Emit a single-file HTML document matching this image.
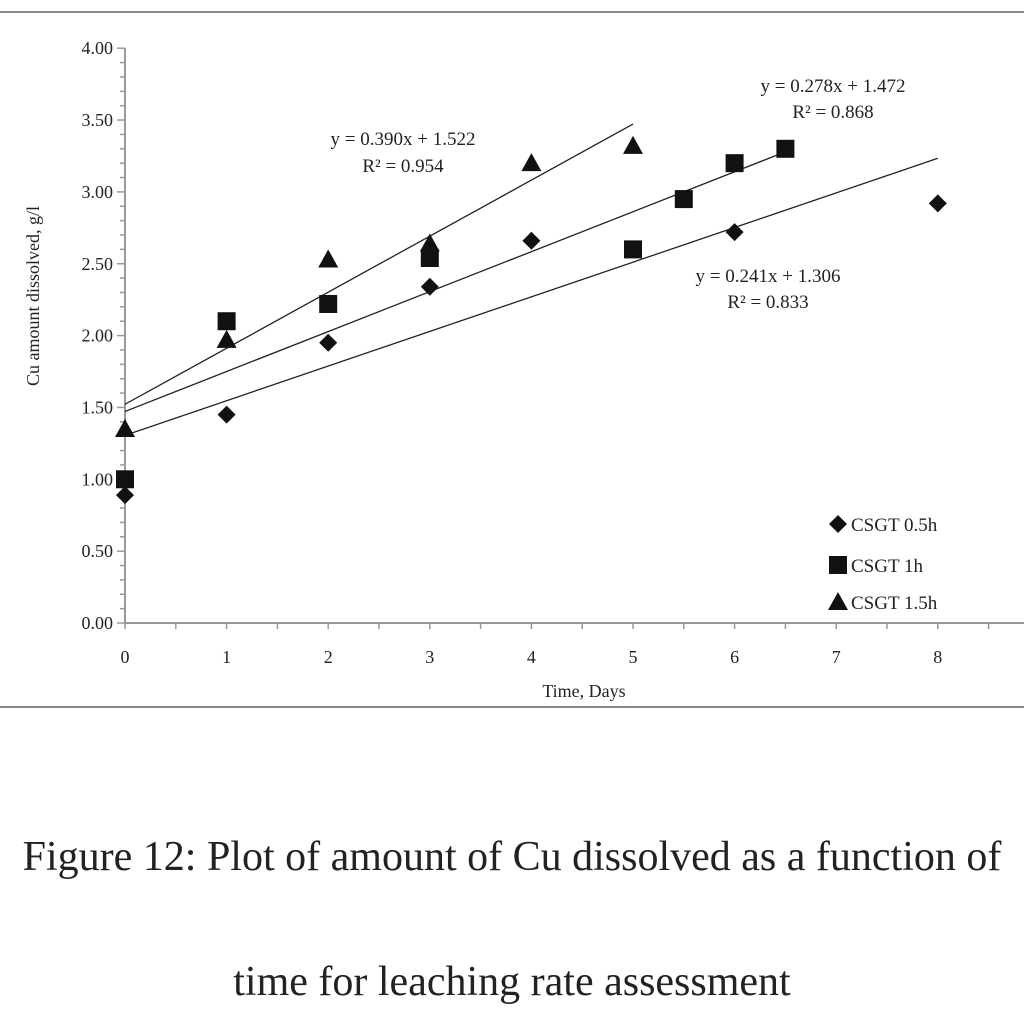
<!DOCTYPE html>
<html><head><meta charset="utf-8"><style>
body{margin:0;background:#fff;width:1024px;height:1024px;overflow:hidden;font-family:"Liberation Serif",serif}
.cap{position:absolute;left:0;width:1024px;text-align:center;font-size:42px;color:#222;white-space:nowrap}
</style></head><body>
<svg width="1024" height="720" style="position:absolute;left:0;top:0" font-family="Liberation Serif, serif">
<line x1="0" y1="12" x2="1024" y2="12" stroke="#888" stroke-width="2"/>
<line x1="0" y1="707" x2="1024" y2="707" stroke="#888" stroke-width="2"/>
<g id="g"></g>
</svg>
<div class="cap" style="top:833px">Figure 12: Plot of amount of Cu dissolved as a function of</div>
<div class="cap" style="top:958px">time for leaching rate assessment</div>
<script>
const xTicks=[0,1,2,3,4,5,6,7,8];
const yTicks=[0,0.5,1,1.5,2,2.5,3,3.5,4];
const x05=[0,1,2,3,4,6,8], y05=[0.89,1.45,1.95,2.34,2.66,2.72,2.92];
const x1=[0,1,2,3,5,5.5,6,6.5], y1=[1.0,2.1,2.22,2.54,2.6,2.95,3.2,3.3];
const x15=[0,1,2,3,4,5], y15=[1.35,1.97,2.53,2.64,3.2,3.32];
const fits=[[0.390,1.522,5],[0.278,1.472,6.5],[0.241,1.306,8]];
const X=v=>125+v*101.6, Y=v=>623-v*143.7;
const g=document.getElementById('g'),NS='http://www.w3.org/2000/svg';
function el(t,a,txt){const e=document.createElementNS(NS,t);for(const k in a)e.setAttribute(k,a[k]);if(txt!==undefined)e.textContent=txt;g.appendChild(e);return e;}
let e;
e=el('line',{x1:X(0),y1:Y(4),x2:X(0),y2:Y(0),stroke:'#999','stroke-width':2});


e=el('line',{x1:X(0),y1:Y(0),x2:1024,y2:Y(0),stroke:'#999','stroke-width':2});


for(let i=0;i<=40;i++){const v=i/10;e=el('line',{x1:X(0)-(i%5==0?8:5),y1:Y(v),x2:X(0),y2:Y(v),stroke:'#999','stroke-width':1.5});

}
yTicks.forEach(v=>{e=el('text',{x:X(0)-12,y:Y(v)+6,'text-anchor':'end','font-size':18,fill:'#222'},v.toFixed(2));

});
for(let i=0;i<=17;i++){const v=i/2;e=el('line',{x1:X(v),y1:Y(0),x2:X(v),y2:Y(0)+6,stroke:'#999','stroke-width':1.5});

}
xTicks.forEach(v=>{e=el('text',{x:X(v),y:Y(0)+40,'text-anchor':'middle','font-size':18,fill:'#222'},String(v));

});
e=el('text',{x:584,y:697,'text-anchor':'middle','font-size':18,fill:'#222'},'Time, Days');


e=el('text',{x:0,y:0,'text-anchor':'middle','font-size':18,fill:'#222',transform:'translate(39,296) rotate(-90)'},'Cu amount dissolved, g/l');


fits.forEach(f=>{e=el('line',{x1:X(0),y1:Y(f[1]),x2:X(f[2]),y2:Y(f[1]+f[0]*f[2]),stroke:'#222','stroke-width':1.3});

});
function dia(x,y){e=el('polygon',{points:`${x},${y-9} ${x+9},${y} ${x},${y+9} ${x-9},${y}`,fill:'#111'});

}
function sq(x,y){e=el('rect',{x:x-9,y:y-9,width:18,height:18,fill:'#111'});

}
function tri(x,y){e=el('polygon',{points:`${x},${y-10} ${x+10},${y+8} ${x-10},${y+8}`,fill:'#111'});

}
x05.forEach((v,i)=>dia(X(v),Y(y05[i])));
x1.forEach((v,i)=>sq(X(v),Y(y1[i])));
x15.forEach((v,i)=>tri(X(v),Y(y15[i])));
const labs=[[403,145,'y = 0.390x + 1.522'],[403,172,'R² = 0.954'],[833,92,'y = 0.278x + 1.472'],[833,118,'R² = 0.868'],[768,282,'y = 0.241x + 1.306'],[768,308,'R² = 0.833']];
labs.forEach(l=>{e=el('text',{x:l[0],y:l[1],'text-anchor':'middle','font-size':19,fill:'#222'},l[2]);

});
const leg=[['CSGT 0.5h',dia,524],['CSGT 1h',sq,565],['CSGT 1.5h',tri,602]];
leg.forEach(l=>{l[1](838,l[2]);
e=el('text',{x:851,y:l[2]+7,'font-size':19,fill:'#222'},l[0]);

});
</script>
</body></html>
